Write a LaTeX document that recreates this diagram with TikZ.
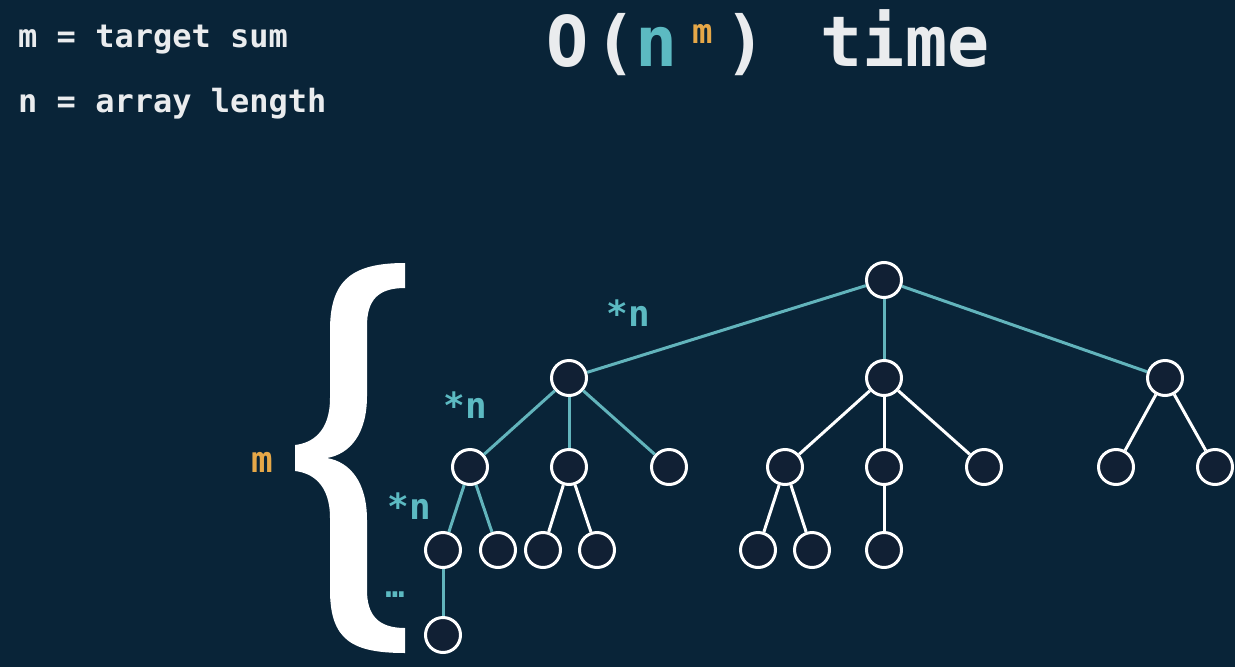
\documentclass[tikz,border=0pt]{standalone}
\usepackage{fontspec}
\setmainfont{DejaVu Sans Mono}
\definecolor{bg}{RGB}{9,36,56}
\definecolor{nodefill}{RGB}{17,32,52}
\definecolor{txt}{RGB}{234,236,238}
\definecolor{tealtxt}{RGB}{92,186,194}
\definecolor{orangetxt}{RGB}{230,168,72}
\definecolor{tealedge}{RGB}{98,180,188}
\tikzset{
  nd/.style={circle, draw=white, line width=3pt, fill=nodefill, minimum size=35pt, inner sep=0pt},
  tedge/.style={draw=tealedge, line width=3pt},
  wedge/.style={draw=white, line width=3pt},
  lbl/.style={inner sep=0pt, font=\fontsize{36}{40}\selectfont\bfseries, text=tealtxt},
  toptxt/.style={inner sep=0pt, anchor=base west, font=\fontsize{32}{38}\selectfont\bfseries, text=txt},
  ttl/.style={inner sep=0pt, anchor=base, font=\fontsize{70}{80}\selectfont\bfseries, text=txt}
}
\begin{document}
\begin{tikzpicture}[x=1pt,y=-1pt]
\useasboundingbox (0,0) rectangle (1235,667);
\fill[bg] (0,0) rectangle (1235,667);

% header texts
\node[toptxt] (t1) at (18,47) {m = target sum};
\node[toptxt] (t2) at (18,112) {n = array length};
\node[ttl] (tO) at (568,66) {O};
\node[ttl] (tp1) at (616,66) {(};
\node[ttl, text=tealtxt] (tn) at (657,66) {n};
\node[ttl, text=orangetxt, font=\fontsize{34}{38}\selectfont\bfseries] (tm) at (703,43) {m};
\node[ttl] (tp2) at (746,66) {)};
\node[ttl] (ttime) at (905,66) {time};

% brace
\fill[white] (405,263) .. controls (352,263) and (330,280) .. (330,330)
  -- (330,398) .. controls (330,432) and (312,443) .. (295,445)
  -- (295,471) .. controls (312,473) and (330,484) .. (330,518)
  -- (330,590) .. controls (330,640) and (352,653) .. (405,653)
  -- (405,628) .. controls (378,628) and (367,615) .. (367,590)
  -- (367,520) .. controls (367,482) and (350,462) .. (327,458)
  .. controls (350,454) and (367,434) .. (367,396)
  -- (367,326) .. controls (367,300) and (378,288) .. (405,288) -- cycle;

% labels
\node[lbl, text=orangetxt] (mlbl) at (262,462) {m};
\node[lbl] (n1) at (628,313) {*n};
\node[lbl] (n2) at (465,405) {*n};
\node[lbl] (n3) at (409,506) {*n};
\node[inner sep=0pt, text=tealtxt, font=\fontsize{32}{36}\selectfont\bfseries] (dots) at (395,595) {…};

% tree nodes
\node[nd] (r) at (884,280) {};
\node[nd] (a) at (569,378) {};
\node[nd] (b) at (884,378) {};
\node[nd] (c) at (1165,378) {};
\node[nd] (a1) at (470,467) {};
\node[nd] (a2) at (569,467) {};
\node[nd] (a3) at (669,467) {};
\node[nd] (b1) at (785,467) {};
\node[nd] (b2) at (884,467) {};
\node[nd] (b3) at (984,467) {};
\node[nd] (c1) at (1116,467) {};
\node[nd] (c2) at (1215,467) {};
\node[nd] (a11) at (443,550) {};
\node[nd] (a12) at (498,550) {};
\node[nd] (a21) at (543,550) {};
\node[nd] (a22) at (597,550) {};
\node[nd] (b11) at (758,550) {};
\node[nd] (b12) at (812,550) {};
\node[nd] (b21) at (884,550) {};
\node[nd] (a111) at (443,635) {};

% edges
\draw[tedge] (r) -- (a);
\draw[tedge] (r) -- (b);
\draw[tedge] (r) -- (c);
\draw[tedge] (a) -- (a1);
\draw[tedge] (a) -- (a2);
\draw[tedge] (a) -- (a3);
\draw[tedge] (a1) -- (a11);
\draw[tedge] (a1) -- (a12);
\draw[tedge] (a11) -- (a111);
\draw[wedge] (b) -- (b1);
\draw[wedge] (b) -- (b2);
\draw[wedge] (b) -- (b3);
\draw[wedge] (c) -- (c1);
\draw[wedge] (c) -- (c2);
\draw[wedge] (a2) -- (a21);
\draw[wedge] (a2) -- (a22);
\draw[wedge] (b1) -- (b11);
\draw[wedge] (b1) -- (b12);
\draw[wedge] (b2) -- (b21);
\end{tikzpicture}
\end{document}
